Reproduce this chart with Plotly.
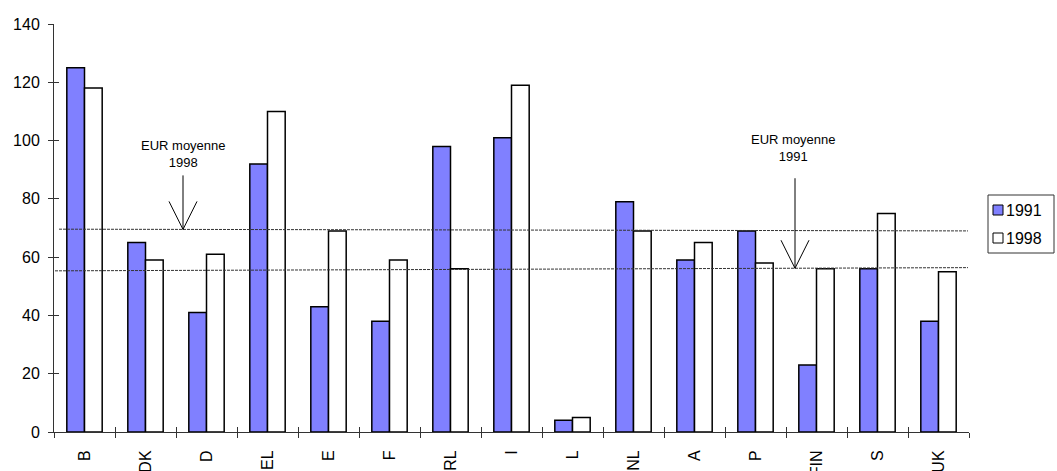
import plotly.graph_objects as go

# Member states and index values
categories = ["B", "DK", "D", "EL", "E", "F", "RL", "I", "L", "NL", "A", "P", "FIN", "S", "UK"]
values_1991 = [125, 65, 41, 92, 43, 38, 98, 101, 4, 79, 59, 69, 23, 56, 38]
values_1998 = [118, 59, 61, 110, 69, 59, 56, 119, 5, 69, 65, 58, 56, 75, 55]
series_names = ["1991", "1998"]

# EUR average reference lines (level at left end, level at right end)
eur_avg_1998 = [69.6, 69.0]
eur_avg_1991 = [55.3, 56.4]
avg_labels = ["EUR moyenne<br>1998", "EUR moyenne<br>1991"]

y_ticks = [0, 20, 40, 60, 80, 100, 120, 140]

FONT = "Liberation Sans, Arial, sans-serif"
BLUE = "#8080FF"
W, H = 1057, 471
M_L, M_R, M_T, M_B = 54, 88, 24, 39
PLOT_W = W - M_L - M_R
PLOT_H = H - M_T - M_B


def px_x(p):
    return (p - M_L) / PLOT_W


def px_y(p):
    return (H - M_B - p) / PLOT_H


fig = go.Figure()
fig.add_trace(go.Bar(x=categories, y=values_1991, name=series_names[0],
                     marker=dict(color=BLUE, line=dict(color="black", width=1.5))))
fig.add_trace(go.Bar(x=categories, y=values_1998, name=series_names[1],
                     marker=dict(color="white", line=dict(color="black", width=1.5))))
# carrier trace for the overlay axes that draw the inner half of each tick
fig.add_trace(go.Scatter(x=categories, y=[None] * len(categories), xaxis="x2", yaxis="y2",
                         showlegend=False, hoverinfo="skip", mode="markers"))

shapes = []
annotations = []

# dashed average lines, slightly hand-drawn
line_specs = [
    (eur_avg_1998, px_x(59), px_x(968)),
    (eur_avg_1991, px_x(55), px_x(968)),
]
for (lv, x0, x1) in line_specs:
    shapes.append(dict(type="line", xref="paper", yref="y", x0=x0, x1=x1, y0=lv[0], y1=lv[1],
                       line=dict(color="#333333", width=1, dash="3px,1px")))


def level_at(spec, xp):
    lv, x0, x1 = spec
    t = (xp - x0) / (x1 - x0)
    return lv[0] + t * (lv[1] - lv[0])


# arrows pointing at the average lines, with their labels
arrow_specs = [
    (line_specs[0], px_x(183), 54, px_x(183), px_y(154), avg_labels[0]),
    (line_specs[1], px_x(795), 90, px_x(793), px_y(148), avg_labels[1]),
]
for spec, ax, stem, tx, ty, label in arrow_specs:
    lvl = level_at(spec, ax)
    common = dict(type="line", xref="paper", yref="y", xsizemode="pixel", ysizemode="pixel",
                  xanchor=ax, yanchor=lvl, line=dict(color="black", width=1))
    shapes.append(dict(common, x0=0, x1=0, y0=0, y1=stem))
    shapes.append(dict(common, x0=-14, x1=0, y0=28, y1=0))
    shapes.append(dict(common, x0=14, x1=0, y0=28, y1=0))
    annotations.append(dict(text=label, xref="paper", yref="paper", x=tx, y=ty,
                            xanchor="center", yanchor="middle", showarrow=False,
                            font=dict(family=FONT, size=13, color="black")))

# legend box
shapes.append(dict(type="rect", xref="paper", yref="paper", xsizemode="pixel", ysizemode="pixel",
                   xanchor=1, yanchor=1, x0=19, x1=85, y0=-171, y1=-229,
                   line=dict(color="#333333", width=1), fillcolor="white"))
for i, (name, col) in enumerate(zip(series_names, [BLUE, "white"])):
    cy = -186 - 28 * i
    shapes.append(dict(type="rect", xref="paper", yref="paper", xsizemode="pixel", ysizemode="pixel",
                       xanchor=1, yanchor=1, x0=24, x1=34, y0=cy + 5, y1=cy - 5,
                       line=dict(color="black", width=1), fillcolor=col))
    annotations.append(dict(text=name, xref="paper", yref="paper", x=1, y=1, xshift=35, yshift=cy,
                            xanchor="left", yanchor="middle", showarrow=False,
                            font=dict(family=FONT, size=16, color="black")))

AXIS_COLOR = "#333333"
fig.update_layout(
    width=W, height=H,
    margin=dict(l=M_L, r=M_R, t=M_T, b=M_B, autoexpand=False),
    paper_bgcolor="white", plot_bgcolor="white",
    barmode="group", bargap=0.42, bargroupgap=0,
    showlegend=False,
    font=dict(family=FONT, size=16, color="black"),
    xaxis=dict(type="category", categoryorder="array", categoryarray=categories,
               range=[-0.5, len(categories) - 0.5], tickson="boundaries",
               ticks="outside", ticklen=5, tickcolor=AXIS_COLOR, tickwidth=1,
               tickangle=-90, ticklabelstandoff=11,
               showline=True, linecolor=AXIS_COLOR, linewidth=1,
               showgrid=False, zeroline=False, automargin=False),
    yaxis=dict(range=[0, 140], tickvals=y_ticks, ticks="outside", ticklen=5,
               tickcolor=AXIS_COLOR, tickwidth=1, ticklabelstandoff=5,
               showline=True, linecolor=AXIS_COLOR, linewidth=1,
               showgrid=False, zeroline=False, automargin=False),
    xaxis2=dict(overlaying="x", anchor="y2", type="category", categoryorder="array",
                categoryarray=categories, range=[-0.5, len(categories) - 0.5],
                tickson="boundaries", ticks="inside", ticklen=5, tickcolor=AXIS_COLOR,
                showticklabels=False, showline=False, showgrid=False, zeroline=False),
    yaxis2=dict(overlaying="y", anchor="x2", range=[0, 140], tickvals=y_ticks,
                ticks="inside", ticklen=5, tickcolor=AXIS_COLOR,
                showticklabels=False, showline=False, showgrid=False, zeroline=False),
    shapes=shapes,
    annotations=annotations,
)

fig.write_html("out.html")
